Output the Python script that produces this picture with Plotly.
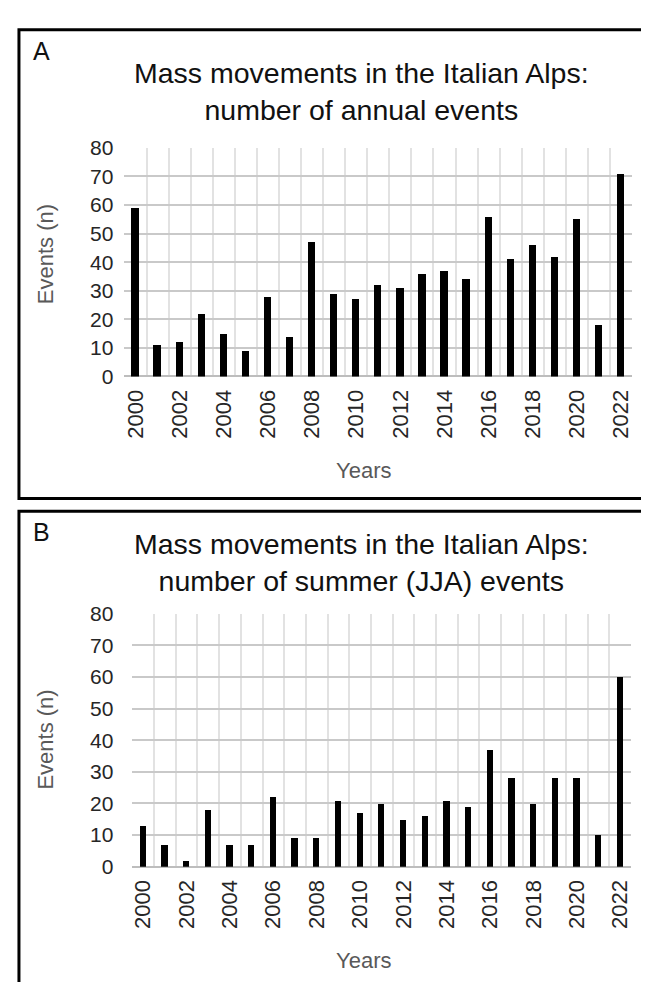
import plotly.graph_objects as go

years = list(range(2000, 2023))
annual_events = [59, 11, 12, 22, 15, 9, 28, 14, 47, 29, 27, 32, 31, 36, 37, 34, 56, 41, 46, 42, 55, 18, 71]
summer_events = [13, 7, 2, 18, 7, 7, 22, 9, 9, 21, 17, 20, 15, 16, 21, 19, 37, 28, 20, 28, 28, 10, 60]
tick_years = years[::2]
tick_labels = [str(y) for y in tick_years]
y_ticks = list(range(0, 81, 10))

W, H = 649, 982
FONT = "Liberation Sans, Arial, sans-serif"


def px_x(x):
    return x / W


def px_y(y):
    return 1 - y / H


fig = go.Figure()
fig.add_trace(go.Bar(x=years, y=annual_events, width=0.33, marker=dict(color="black", line=dict(width=0)),
                     xaxis="x", yaxis="y", showlegend=False))
fig.add_trace(go.Bar(x=years, y=summer_events, width=0.29, marker=dict(color="black", line=dict(width=0)),
                     xaxis="x2", yaxis="y2", showlegend=False))

grid_h = "#c9c9c9"
grid_v = "#e2e2e2"


def xaxis_cfg(domain, anchor):
    return dict(domain=domain, anchor=anchor, range=[1999.5, 2022.5], tickmode="array",
                tickvals=tick_years, ticktext=tick_labels, tickangle=-90, showgrid=False,
                zeroline=False, showline=False, ticks="", ticklabelstandoff=8,
                tickfont=dict(family=FONT, size=22, color="#262626"),
                minor=dict(tick0=1999.5, dtick=1, showgrid=True, gridcolor=grid_v, gridwidth=2, ticks=""))


def yaxis_cfg(domain, anchor, standoff):
    return dict(domain=domain, anchor=anchor, range=[0, 80], tickmode="array", tickvals=y_ticks,
                showgrid=True, gridcolor=grid_h, gridwidth=2, zeroline=True, zerolinecolor="#bdbdbd",
                zerolinewidth=2, showline=False, ticks="", ticklabelstandoff=standoff,
                tickfont=dict(family=FONT, size=21, color="#262626"))


fig.update_layout(
    width=W, height=H, margin=dict(l=0, r=0, t=0, b=0),
    paper_bgcolor="white", plot_bgcolor="white", bargap=0,
    xaxis=xaxis_cfg([px_x(115), px_x(625)], "y"),
    yaxis=yaxis_cfg([px_y(365), px_y(131)], "x", 10),
    xaxis2=xaxis_cfg([px_x(123), px_x(624)], "y2"),
    yaxis2=yaxis_cfg([px_y(867), px_y(608)], "x2", 18),
)

annotations = []


def text(x, y, s, size, color="#111111", angle=0, xanchor="center"):
    annotations.append(dict(x=px_x(x), y=px_y(y), xref="paper", yref="paper", text=s, showarrow=False,
                            xanchor=xanchor, yanchor="middle", textangle=angle,
                            font=dict(family=FONT, size=size, color=color)))


text(21, 32, "A", 25, xanchor="left")
text(353, 73, "Mass movements in the Italian Alps:<br>number of annual events", 28.5)
text(36, 240, "Events (n)", 22, color="#595959", angle=-90)
text(355, 461, "Years", 22, color="#595959")

text(21, 524, "B", 25, xanchor="left")
text(353, 556, "Mass movements in the Italian Alps:<br>number of summer (JJA) events", 28.5)
text(36, 737, "Events (n)", 22, color="#595959", angle=-90)
text(355, 963, "Years", 22, color="#595959")

fig.update_layout(annotations=annotations)

shapes = [
    dict(type="rect", xref="paper", yref="paper", x0=px_x(9), x1=px_x(660), y0=px_y(490), y1=px_y(10),
         line=dict(color="black", width=3)),
    dict(type="rect", xref="paper", yref="paper", x0=px_x(9), x1=px_x(660), y0=px_y(1000), y1=px_y(503),
         line=dict(color="black", width=3)),
]
fig.update_layout(shapes=shapes)

fig.write_html("out.html")
